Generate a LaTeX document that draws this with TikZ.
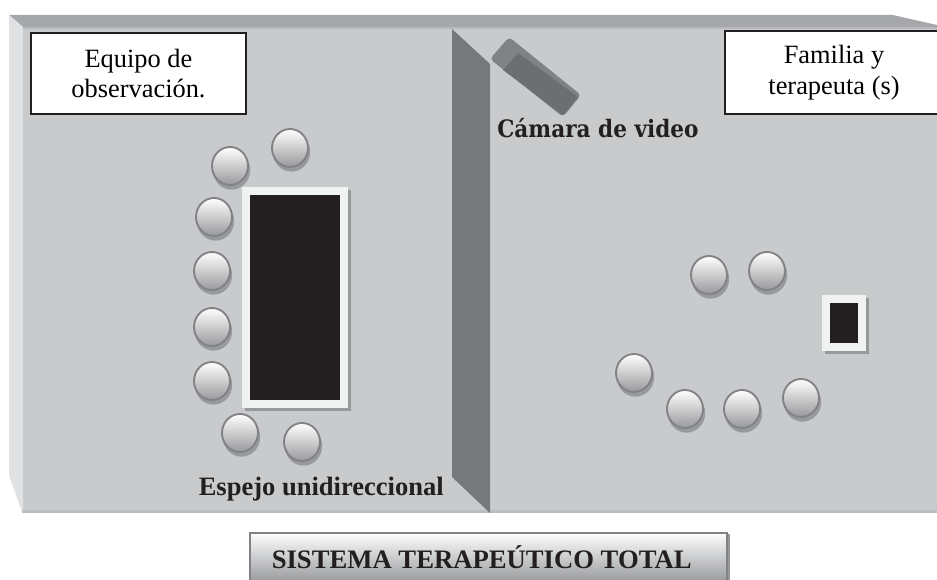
\documentclass[tikz,border=0pt]{standalone}
\usepackage{fontspec}
\setmainfont{Liberation Serif}
\newfontfamily\camerafont[FakeStretch=0.9]{DejaVu Serif}
\usepackage{xcolor}
\usetikzlibrary{shapes.geometric}
\definecolor{wall}{HTML}{C9CACC}
\definecolor{wall-top}{HTML}{A6A7AA}
\definecolor{wall-left}{HTML}{E0E1E3}
\definecolor{wall-foot}{HTML}{BCBDC0}
\definecolor{mirror}{HTML}{77787B}
\definecolor{seat-line}{HTML}{808285}
\definecolor{seat-shadow}{HTML}{98999B}
\definecolor{table-top}{HTML}{231F20}
\definecolor{table-rim}{HTML}{F1F2F2}
\tikzset{
    label-box/.style = {draw=table-top, fill=white, line width=1.1pt, rectangle, align=center, font=\fontsize{19.8}{23}\selectfont},
    seat/.style = {ellipse, draw=seat-line, line width=1.4pt, minimum width=27pt, minimum height=28.5pt, inner sep=0pt, top color=white, bottom color=seat-shadow},
    seat-back/.style = {ellipse, fill=seat-shadow, minimum width=28pt, minimum height=29.5pt, inner sep=0pt},
    rim/.style = {fill=table-rim, inner sep=0pt},
    board/.style = {fill=table-top, inner sep=0pt},
    bold-label/.style = {font=\bfseries\fontsize{19.9}{22}\selectfont, text=table-top},
}
\begin{document}
\begin{tikzpicture}[x=0.75pt,y=-0.75pt]
\useasboundingbox (0,0) rectangle (937,580);
% room
\fill[wall] (23,27) -- (937,27) -- (937,512) -- (22,512) -- cycle;
\fill[wall-top] (9,15) -- (893,15) -- (937,25) -- (937,27) -- (23,27) -- cycle;
\fill[wall-left] (9,15) -- (23,27) -- (23,512) -- (22,512) -- (9,475) -- cycle;
\fill[wall-top!50!wall] (23,27) rectangle (937,29);
\fill[wall-foot] (22,510) rectangle (937,512.5);
% mirror
\fill[mirror] (452,29) -- (490,64) -- (490,513) -- (452,477) -- cycle;
% camera
\fill[seat-line, rounded corners=3pt] (490,59) -- (509,37) -- (581,95) -- (563,117) -- cycle;
\fill[mirror!92!black] (503,70) -- (518,53) -- (578,97) -- (563,115) -- cycle;
% labels
\node[label-box, minimum width=161pt, minimum height=61pt] (team) at (138.5,73.5) {Equipo de\\observación.};
\node[label-box, minimum width=163.5pt, minimum height=62pt] (family) at (834,72.5) {Familia y\\terapeuta (s)};
\node[font=\camerafont\bfseries\fontsize{18}{20}\selectfont, text=table-top, anchor=base west, inner sep=0pt] (camera) at (497,138) {Cámara de video};
\node[bold-label, anchor=base west, inner sep=0pt] (mirror-label) at (198.5,495) {Espejo unidireccional};
% big table
\fill[seat-shadow] (245,190) rectangle (351,411);
\node[rim, minimum width=79.5pt, minimum height=165pt] (table) at (295,297.5) {};
\node[board, minimum width=67.5pt, minimum height=153pt] (table-face) at (table) {};
% small table
\fill[seat-shadow] (825,298) rectangle (869,354);
\node[rim, minimum width=33pt, minimum height=42pt] (desk) at (844,323) {};
\node[board, minimum width=21pt, minimum height=30pt] (desk-face) at (desk) {};
% seats
\foreach \name/\x/\y in {a/230/166, b/290/148, c/214/217, d/212/271, e/212/327, f/212/381, g/240/433, h/302/442,
    k/709/275, l/767/271, m/634/373, n/685/409, o/742/409, p/801/398} {
    \node[seat-back] at (\x+1.5,\y+4) {};
    \node[seat] (seat-\name) at (\x,\y) {};
}
% title
\fill[seat-shadow] (251,534) rectangle (730,580);
\node[draw=seat-line, line width=1.5pt, top color=white, bottom color=seat-line!80!white, minimum width=358pt, minimum height=36.5pt, inner sep=0pt, anchor=north west, font=\bfseries\fontsize{20}{22}\selectfont, text=table-top] (title) at (248.5,531.5) {SISTEMA TERAPEÚTICO TOTAL\kern 9.7pt};
\end{tikzpicture}
\end{document}
